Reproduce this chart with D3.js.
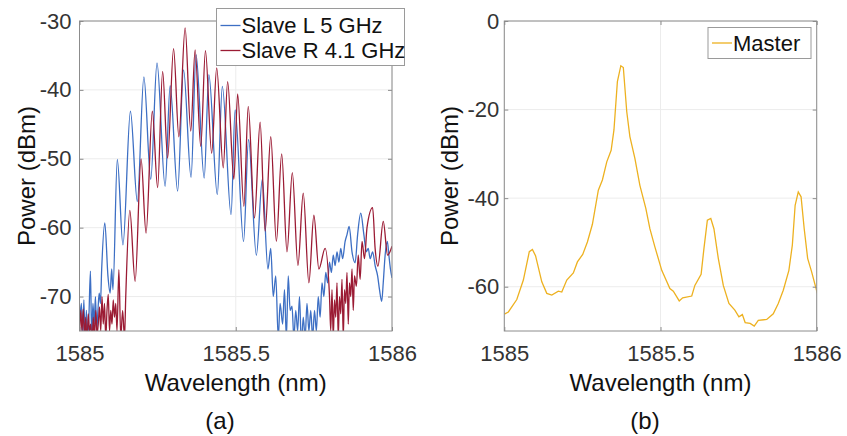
<!DOCTYPE html>
<html>
<head>
<meta charset="utf-8">
<script src="https://cdn.jsdelivr.net/npm/d3@7"></script>
<style>
  body { margin: 0; background: #fff; }
  text { font-family: "Liberation Sans", Arial, Helvetica, sans-serif; }
</style>
</head>
<body>
<svg id="fig" width="847" height="436"></svg>
<script>
// tick values / labels
const xTicks = [1585, 1585.5, 1586];
const xTickLabels = ["1585", "1585.5", "1586"];
const leftYTicks = [-70, -60, -50, -40, -30];
const rightYTicks = [-60, -40, -20, 0];

// Slave L 5 GHz  [wavelength nm, power dBm]
const slaveL = [
  [1585.000,-74],[1585.006,-71],[1585.010,-76],[1585.014,-70.5],[1585.018,-77],[1585.022,-72],
  [1585.026,-76],[1585.030,-73],[1585.035,-66.3],[1585.039,-76],[1585.043,-71],[1585.047,-74],
  [1585.051,-70],[1585.055,-75],[1585.059,-72],[1585.063,-69.5],[1585.067,-71],[1585.071,-66],
  [1585.081,-59.3],[1585.091,-67],[1585.098,-69.5],[1585.103,-66],[1585.107,-69],[1585.121,-50.1],
  [1585.139,-62.5],[1585.163,-43.1],[1585.185,-56.2],[1585.206,-38.1],[1585.228,-53.0],[1585.248,-36.1],
  [1585.274,-54.0],[1585.290,-39.4],[1585.314,-54.7],[1585.333,-37.1],[1585.357,-52.7],[1585.373,-34.9],
  [1585.399,-52.8],[1585.414,-37.8],[1585.441,-55.2],[1585.457,-39.5],[1585.485,-58.1],[1585.498,-42.9],
  [1585.525,-62],[1585.541,-47.2],[1585.566,-64],[1585.585,-53.0],[1585.603,-66],[1585.612,-63],
  [1585.620,-70],[1585.628,-67],[1585.636,-76],[1585.642,-71],[1585.650,-74],[1585.656,-69],
  [1585.662,-76],[1585.668,-67],[1585.674,-72],[1585.680,-71.4],[1585.686,-76],[1585.692,-72],
  [1585.698,-75],[1585.704,-70],[1585.710,-77],[1585.716,-73],[1585.722,-76],[1585.728,-71],
  [1585.734,-75],[1585.740,-72],[1585.746,-76],[1585.752,-72],[1585.758,-75],[1585.764,-70],
  [1585.770,-73],[1585.776,-68],[1585.782,-70],[1585.788,-66.5],[1585.794,-68],[1585.800,-65],
  [1585.806,-66.5],[1585.812,-64],[1585.818,-65.5],[1585.824,-63.5],[1585.830,-65],[1585.836,-63],
  [1585.842,-64.5],[1585.850,-62],[1585.856,-61],[1585.863,-59.8],[1585.872,-63.5],[1585.882,-65.1],
  [1585.890,-61],[1585.900,-57.9],[1585.910,-61],[1585.918,-63.5],[1585.924,-63],[1585.930,-64.5],
  [1585.938,-63.5],[1585.946,-65.5],[1585.954,-67],[1585.960,-69],[1585.967,-70.7],[1585.972,-68],
  [1585.978,-64],[1585.985,-62],[1585.990,-64],[1585.995,-66],[1586.000,-67.3]
];

// Slave R 4.1 GHz
const slaveR = [
  [1585.000,-76],[1585.004,-72],[1585.008,-75],[1585.012,-71.8],[1585.016,-76],[1585.020,-73],
  [1585.024,-77],[1585.028,-72.5],[1585.032,-75],[1585.036,-74],[1585.040,-77],[1585.044,-73],
  [1585.048,-76],[1585.052,-72],[1585.056,-75.5],[1585.060,-74],[1585.064,-71.5],[1585.068,-75],
  [1585.072,-70],[1585.076,-74],[1585.080,-71],[1585.084,-76],[1585.088,-72],[1585.092,-69.7],
  [1585.096,-75],[1585.100,-72],[1585.104,-74],[1585.108,-70.5],[1585.112,-73],[1585.116,-71],
  [1585.120,-75],[1585.126,-66.1],[1585.132,-76],[1585.138,-72],[1585.144,-76],[1585.148,-70],
  [1585.161,-57.5],[1585.178,-67.8],[1585.197,-50.0],[1585.213,-60.8],[1585.233,-43.1],[1585.250,-54.2],
  [1585.266,-37.3],[1585.282,-49.9],[1585.301,-34.0],[1585.318,-46.8],[1585.338,-31.0],[1585.356,-46.0],
  [1585.370,-34.2],[1585.388,-48.2],[1585.403,-34.3],[1585.423,-49.2],[1585.439,-36.8],[1585.460,-51.3],
  [1585.474,-38.8],[1585.494,-53.0],[1585.506,-40.6],[1585.526,-56.9],[1585.540,-42.4],[1585.560,-58.6],
  [1585.578,-44.7],[1585.594,-60.5],[1585.612,-46.8],[1585.630,-62],[1585.647,-49.3],[1585.664,-63.5],
  [1585.681,-52.0],[1585.699,-65.5],[1585.716,-55.0],[1585.734,-68],[1585.750,-58.2],[1585.766,-66],
  [1585.786,-63],[1585.800,-70],[1585.804,-75],[1585.808,-69],[1585.812,-76],[1585.816,-70.5],
  [1585.820,-73],[1585.824,-68],[1585.828,-76],[1585.832,-70],[1585.836,-72.5],[1585.840,-67.5],
  [1585.844,-76],[1585.848,-69],[1585.852,-71],[1585.856,-66.5],[1585.860,-74],[1585.864,-68],
  [1585.868,-70],[1585.872,-66],[1585.876,-72],[1585.880,-67],[1585.886,-68.5],[1585.892,-64],
  [1585.898,-67.5],[1585.904,-62],[1585.912,-64.5],[1585.920,-60],[1585.938,-57.1],[1585.946,-63],
  [1585.955,-65.6],[1585.972,-59.1],[1585.986,-64],[1586.000,-62.7]
];

// Master
const master = [
  [1585.000,-66.2],[1585.013,-65.7],[1585.040,-62.9],[1585.061,-58.5],[1585.080,-52.1],[1585.090,-51.6],
  [1585.100,-53.0],[1585.120,-58.9],[1585.136,-61.5],[1585.152,-61.9],[1585.173,-61.0],[1585.184,-61.2],
  [1585.200,-58.5],[1585.221,-56.9],[1585.234,-54.4],[1585.251,-52.7],[1585.266,-49.9],[1585.282,-45.9],
  [1585.301,-38.2],[1585.314,-35.9],[1585.328,-31.8],[1585.342,-29.2],[1585.351,-24.6],[1585.362,-13.7],
  [1585.373,-10.1],[1585.381,-10.5],[1585.392,-20.5],[1585.402,-26.1],[1585.418,-31.0],[1585.434,-37.1],
  [1585.453,-42.3],[1585.466,-46.9],[1585.482,-51.0],[1585.504,-56.3],[1585.530,-60.4],[1585.541,-61.0],
  [1585.560,-63.2],[1585.571,-62.5],[1585.600,-62.1],[1585.610,-59.7],[1585.630,-57.2],[1585.639,-51.4],
  [1585.650,-45.0],[1585.661,-44.6],[1585.671,-46.9],[1585.685,-53.6],[1585.701,-59.7],[1585.719,-63.8],
  [1585.738,-65.3],[1585.751,-66.8],[1585.762,-66.3],[1585.771,-68.1],[1585.787,-68.3],[1585.800,-68.9],
  [1585.813,-67.6],[1585.840,-67.4],[1585.861,-66.1],[1585.877,-63.8],[1585.893,-60.8],[1585.911,-56.3],
  [1585.922,-50.6],[1585.931,-41.6],[1585.941,-38.6],[1585.950,-39.7],[1585.960,-46.9],[1585.971,-53.6],
  [1585.984,-56.7],[1586.002,-61.5]
];

const svg = d3.select("#fig");
const frameColor = "#8c8c8c", gridColor = "#ececec", tickText = "#333";

function drawPanel(opt) {
  const x = d3.scaleLinear().domain([1585, 1586]).range([opt.x0, opt.x1]);
  const y = d3.scaleLinear().domain(opt.yDomain).range([opt.y1, opt.y0]);
  const g = svg.append("g");

  g.append("clipPath").attr("id", opt.id)
    .append("rect").attr("x", opt.x0).attr("y", opt.y0)
    .attr("width", opt.x1 - opt.x0).attr("height", opt.y1 - opt.y0);

  // grid
  g.selectAll(".vg").data(xTicks).enter().append("line")
    .attr("x1", d => x(d)).attr("x2", d => x(d))
    .attr("y1", opt.y0).attr("y2", opt.y1)
    .attr("stroke", gridColor);
  g.selectAll(".hg").data(opt.yTicks).enter().append("line")
    .attr("y1", d => y(d)).attr("y2", d => y(d))
    .attr("x1", opt.x0).attr("x2", opt.x1)
    .attr("stroke", gridColor);

  // series
  const lines = g.append("g").attr("clip-path", "url(#" + opt.id + ")");
  opt.series.forEach(s => {
    lines.append("path")
      .datum(s.data)
      .attr("fill", "none")
      .attr("stroke", s.color)
      .attr("stroke-width", 1.3)
      .attr("d", d3.line().x(d => x(d[0])).y(d => y(d[1])).curve(s.curve));
  });

  // axes (ticks inward, box on)
  const tl = 4;
  g.append("g").attr("transform", `translate(0,${opt.y1})`)
    .call(d3.axisBottom(x).tickValues(xTicks).tickFormat((d, i) => xTickLabels[i]).tickSize(-tl).tickPadding(14))
    .call(a => a.select(".domain").remove());
  g.append("g").attr("transform", `translate(0,${opt.y0})`)
    .call(d3.axisTop(x).tickValues(xTicks).tickFormat("").tickSize(-tl))
    .call(a => a.select(".domain").remove());
  g.append("g").attr("transform", `translate(${opt.x0},0)`)
    .call(d3.axisLeft(y).tickValues(opt.yTicks).tickFormat(d => String(d).replace("−", "-")).tickSize(-tl).tickPadding(opt.yPad))
    .call(a => a.select(".domain").remove());
  g.append("g").attr("transform", `translate(${opt.x1},0)`)
    .call(d3.axisRight(y).tickValues(opt.yTicks).tickFormat("").tickSize(-tl))
    .call(a => a.select(".domain").remove());
  g.selectAll(".tick line").attr("stroke", frameColor);
  g.selectAll(".tick text").attr("fill", tickText).style("font-size", "22px")
    .style("font-family", '"Liberation Sans", Arial, sans-serif');

  g.append("rect").attr("x", opt.x0).attr("y", opt.y0)
    .attr("width", opt.x1 - opt.x0).attr("height", opt.y1 - opt.y0)
    .attr("fill", "none").attr("stroke", frameColor);

  // labels
  g.append("text").attr("x", (opt.x0 + opt.x1) / 2).attr("y", 391)
    .attr("text-anchor", "middle").style("font-size", "24px").attr("fill", "#111")
    .text("Wavelength (nm)");
  g.append("text").attr("transform", `translate(${opt.ylabX},${(opt.y0 + opt.y1) / 2}) rotate(-90)`)
    .attr("text-anchor", "middle").attr("dy", "0.35em").style("font-size", "24px").attr("fill", "#111")
    .text("Power (dBm)");
  g.append("text").attr("x", opt.capX).attr("y", 429)
    .attr("text-anchor", "middle").style("font-size", "24px").attr("fill", "#111")
    .text(opt.caption);

  // legend
  const lg = svg.append("g");
  lg.append("rect").attr("x", opt.legend.x).attr("y", opt.legend.y)
    .attr("width", opt.legend.w).attr("height", opt.legend.h)
    .attr("fill", "#fff").attr("stroke", "#9a9a9a");
  opt.series.forEach((s, i) => {
    const cy = opt.legend.y + opt.legend.first + i * 25;
    lg.append("line").attr("x1", opt.legend.x + 4).attr("x2", opt.legend.x + 24)
      .attr("y1", cy).attr("y2", cy).attr("stroke", s.color).attr("stroke-width", 1.3);
    lg.append("text").attr("x", opt.legend.x + 25).attr("y", cy).attr("dy", "0.36em")
      .style("font-size", "22px").attr("fill", "#111").text(s.name);
  });
}

drawPanel({
  id: "clipA", x0: 79.5, x1: 392, y0: 21, y1: 331,
  yDomain: [-75, -30], yTicks: leftYTicks, yPad: 8, ylabX: 27, capX: 220, caption: "(a)",
  legend: { x: 216.5, y: 8.5, w: 188, h: 57, first: 17 },
  series: [
    { name: "Slave L 5 GHz", color: "#3d6fc4", data: slaveL, curve: d3.curveMonotoneX },
    { name: "Slave R 4.1 GHz", color: "#9b1b34", data: slaveR, curve: d3.curveMonotoneX }
  ]
});

drawPanel({
  id: "clipB", x0: 504.3, x1: 816.7, y0: 21, y1: 331,
  yDomain: [-70, 0], yTicks: rightYTicks, yPad: 5, ylabX: 450, capX: 645, caption: "(b)",
  legend: { x: 708, y: 27.5, w: 103, h: 31, first: 15.5 },
  series: [
    { name: "Master", color: "#edb120", data: master, curve: d3.curveLinear }
  ]
});
</script>
</body>
</html>
